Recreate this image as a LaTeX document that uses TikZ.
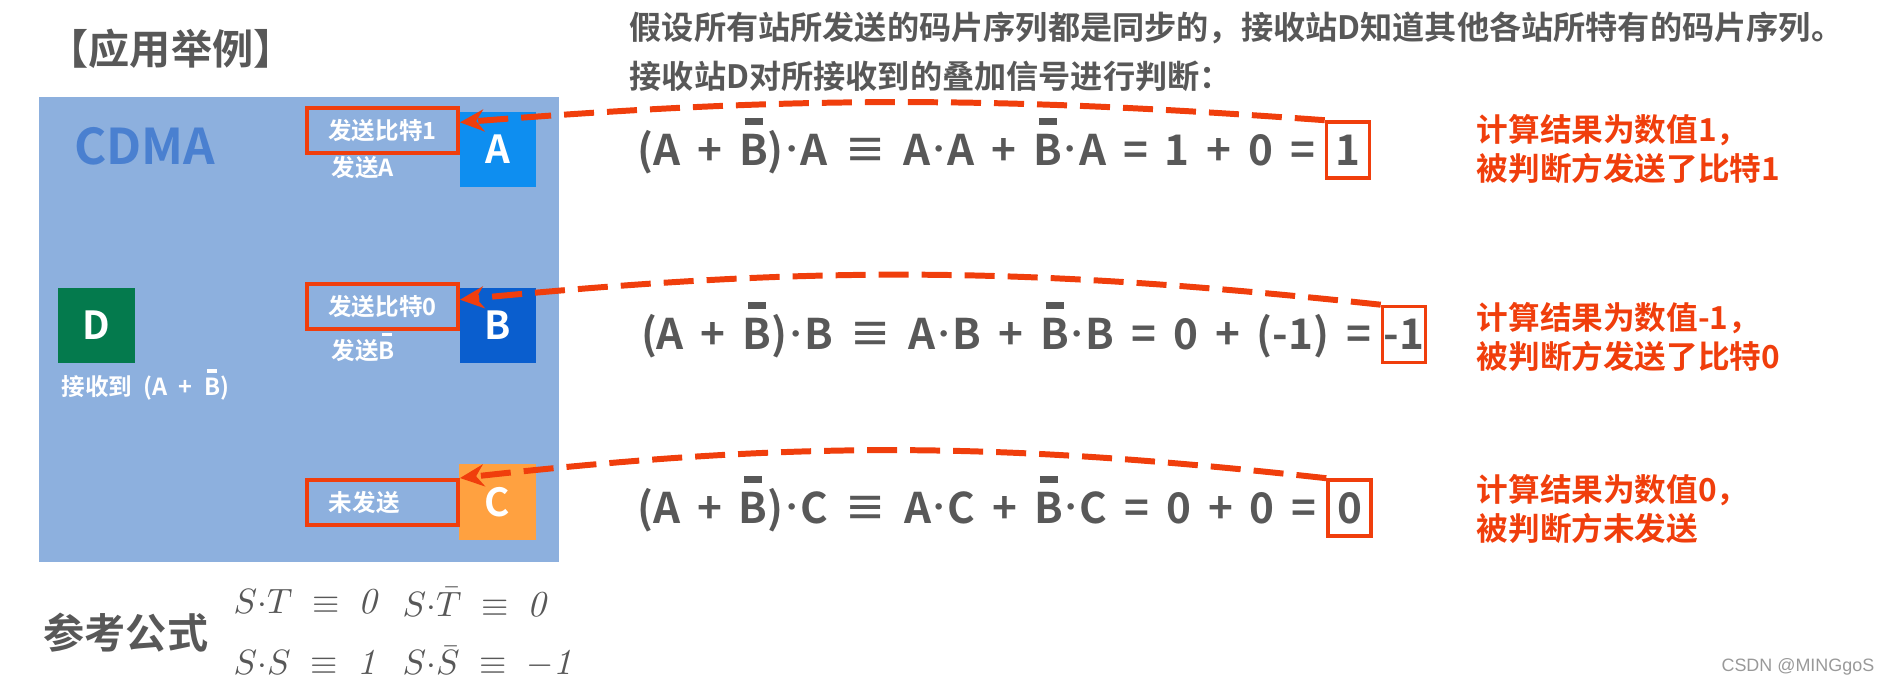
\documentclass[tikz,border=0pt]{standalone}
\usepackage{fontspec}
\usepackage{tikz}
\usetikzlibrary{positioning,arrows.meta}
\newfontfamily\cjk{Noto Sans CJK SC}[BoldFont={Noto Sans CJK SC Bold}]
\newfontfamily\creditFont{Liberation Sans}
\definecolor{panelColor}{RGB}{141,176,222}
\definecolor{cdmaColor}{RGB}{74,128,208}
\definecolor{markColor}{RGB}{240,62,12}
\definecolor{textGray}{RGB}{88,88,88}
\definecolor{stationAColor}{RGB}{14,142,240}
\definecolor{stationBColor}{RGB}{10,94,206}
\definecolor{stationCColor}{RGB}{255,161,64}
\definecolor{stationDColor}{RGB}{4,122,77}
\tikzstyle{canvas} = [x = 0.01cm, y = -0.01cm]
\tikzstyle{stationStyle} = [fill, text=white, minimum width=0.76cm, minimum height=0.75cm, inner sep=0pt, font=\cjk\bfseries\fontsize{11}{11}\selectfont]
\tikzstyle{bitBox} = [draw=markColor, line width=1.1pt, minimum width=1.51cm, minimum height=0.45cm, inner sep=0pt, text=white, font=\cjk\bfseries\fontsize{6.7}{8}\selectfont]
\tikzstyle{whiteText} = [text=white, inner sep=0pt, anchor=west, font={\cjk\bfseries\fontsize{6.7}{8}\selectfont\spaceskip=0.48em\relax}]
\tikzstyle{equation} = [text=textGray, inner sep=0pt, font={\cjk\bfseries\fontsize{12}{14}\selectfont\spaceskip=0.4em\relax}]
\tikzstyle{resultBox} = [equation, draw=markColor, line width=1pt, minimum width=0.43cm, minimum height=0.56cm]
\tikzstyle{noteText} = [text=markColor, align=left, anchor=west, inner sep=0pt, font=\cjk\bfseries\fontsize{9}{11.2}\selectfont]
\tikzstyle{hintText} = [text=textGray, align=left, anchor=west, inner sep=0pt, font=\cjk\bfseries\fontsize{9.15}{13.9}\selectfont]
\tikzstyle{bigText} = [text=textGray, inner sep=0pt, font=\cjk\bfseries\fontsize{11.7}{14}\selectfont]
\tikzstyle{formula} = [text=textGray, inner sep=0pt, anchor=west, font=\fontsize{10.4}{12}\selectfont]
\tikzstyle{dashArrow} = [draw=markColor, line width=1.7pt, dash pattern=on 3mm off 1.3mm, -{Stealth[length=2.4mm, width=2.2mm]}]
\newsavebox{\barLetter}
\newcommand{\ovl}[1]{\sbox{\barLetter}{#1}\rlap{\raisebox{1.3\ht\barLetter}{\makebox[\wd\barLetter]{\rule{0.62\wd\barLetter}{0.22\ht\barLetter}}}}\usebox{\barLetter}}
\newcommand{\dotop}{\makebox[0.4em]{\raisebox{0.38em}{\scalebox{0.6}{\raisebox{-0.38em}{·}}}}}
\newcommand{\station}[4]{\node [stationStyle, fill=#4] (#1) at (#2,#3) {#1};}

\begin{document}
\begin{tikzpicture}[canvas]
  \useasboundingbox (0,0) rectangle (1890,686);
  % left panel
  \node [bigText] (title) at (171,49) {【应用举例】};
  \fill [panelColor] (39,97) rectangle (559,562);
  \node [text=cdmaColor, font=\cjk\bfseries\fontsize{14}{14}\selectfont] (cdma) at (145,146) {CDMA};
  \station{A}{498}{149.5}{stationAColor}
  \station{B}{498}{325.5}{stationBColor}
  \station{C}{497.5}{502}{stationCColor}
  \station{D}{96.5}{325.5}{stationDColor}
  \node [bitBox] (bitA) at (382.5,130.5) {发送比特1};
  \node [bitBox] (bitB) at (382.5,306.5) {发送比特0};
  \node [bitBox] (bitC) at (382.5,502.5) {\makebox[1.07cm][l]{未发送}};
  \node [whiteText] (subA) at (331,168) {发送A};
  \node [whiteText] (subB) at (331,347) {发送\ovl{B}};
  \node [whiteText] (recvD) at (61,385) {接收到 (A + \ovl{B})};
  % reference formulas
  \node [bigText] (ref) at (126,633) {参考公式};
  \node [formula] (fST) at (233,602) {$S{\cdot}T \;\equiv\; \mathit{0}$};
  \node [formula] (fSTbar) at (402,602) {$S{\cdot}\bar{T} \;\equiv\; \mathit{0}$};
  \node [formula] (fSS) at (233,662) {$S{\cdot}S \;\equiv\; \mathit{1}$};
  \node [formula] (fSSbar) at (402,662) {$S{\cdot}\bar{S} \;\equiv\; -\mathit{1}$};
  % right side
  \node [hintText] (hint) at (629,51.5) {假设所有站所发送的码片序列都是同步的，接收站D知道其他各站所特有的码片序列。\\接收站D对所接收到的叠加信号进行判断：};
  \node [resultBox] (resA) at (1348,150) {1};
  \node [resultBox] (resB) at (1404,334.5) {-1};
  \node [resultBox] (resC) at (1349.5,508) {0};
  \node [equation, anchor=base east] (eqA) at ([xshift=-0.09cm]resA.base west) {(A + \ovl{B})\dotop A ≡ A\dotop A + \ovl{B}\dotop A = 1 + 0 =};
  \node [equation, anchor=base east] (eqB) at ([xshift=-0.09cm]resB.base west) {(A + \ovl{B})\dotop B ≡ A\dotop B + \ovl{B}\dotop B = 0 + (-1) =};
  \node [equation, anchor=base east] (eqC) at ([xshift=-0.09cm]resC.base west) {(A + \ovl{B})\dotop C ≡ A\dotop C + \ovl{B}\dotop C = 0 + 0 =};
  \node [noteText] (noteA) at (1476,149) {计算结果为数值1，\\被判断方发送了比特1};
  \node [noteText] (noteB) at (1476,337) {计算结果为数值-1，\\被判断方发送了比特0};
  \node [noteText] (noteC) at (1476,509) {计算结果为数值0，\\被判断方未发送};
  \draw [dashArrow] (resA.north west) to [bend right=4.3] (bitA.6);
  \draw [dashArrow] (resB.north west) to [bend right=5.8] (bitB.5);
  \draw [dashArrow] (resC.north west) to [bend right=6.3] (bitC.north east);
  \node [text=gray!80, anchor=east, inner sep=0pt, font=\creditFont\fontsize{5.1}{6}\selectfont] (credit) at (1875,667) {CSDN @MINGgoS};
\end{tikzpicture}
\end{document}
